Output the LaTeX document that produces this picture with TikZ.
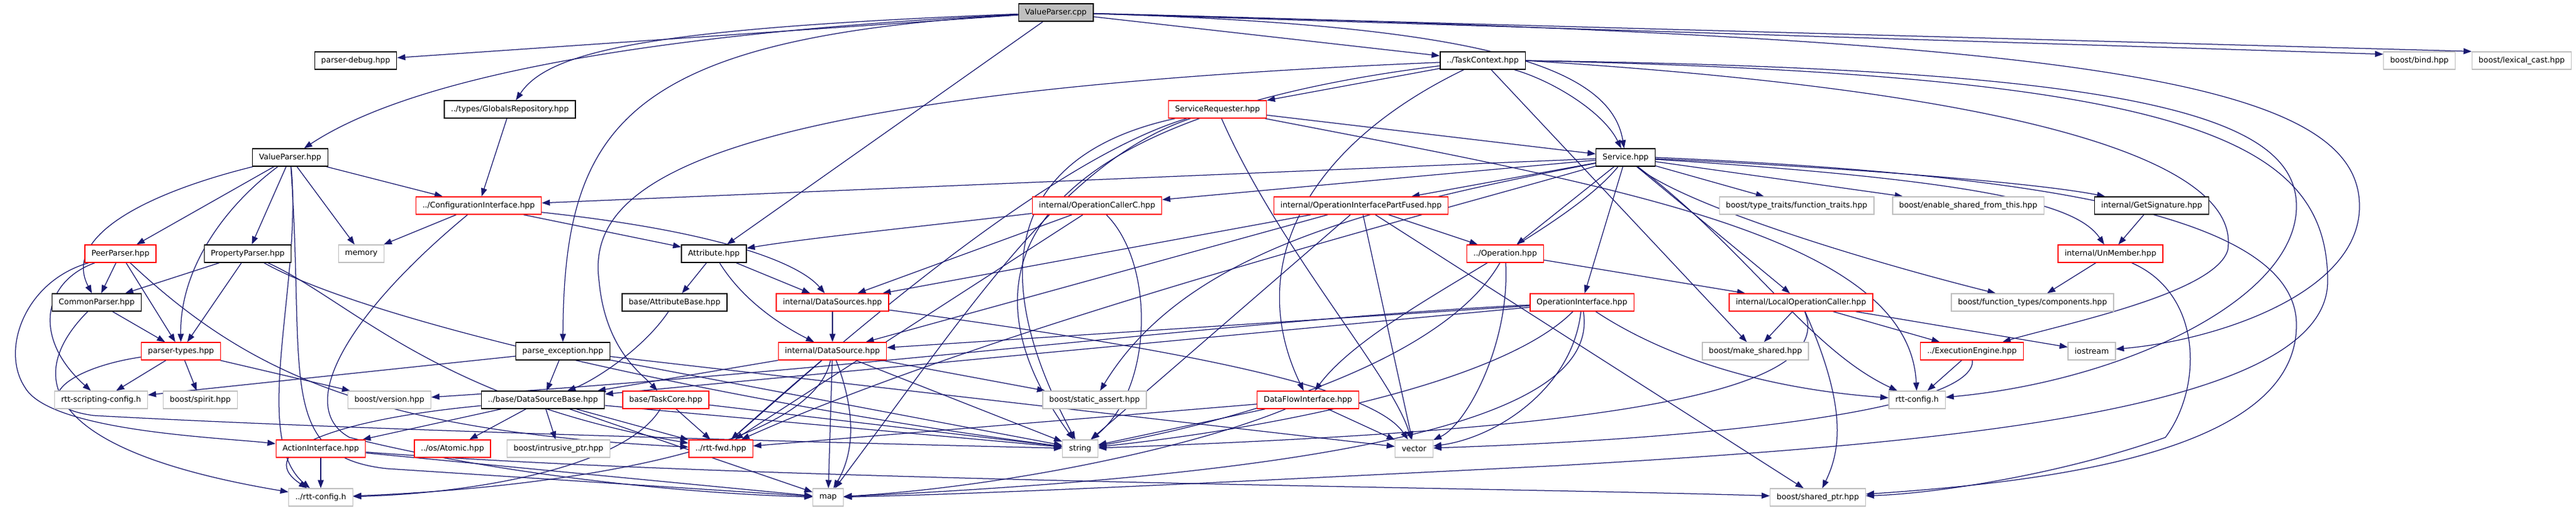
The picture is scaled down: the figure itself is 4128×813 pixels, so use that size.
\documentclass[tikz,border=0pt]{standalone}
\usepackage{fontspec}
\setmainfont{DejaVu Sans}
\usetikzlibrary{arrows.meta,backgrounds}
\definecolor{edgeblue}{HTML}{191970}
\definecolor{extgray}{HTML}{BFBFBF}

\begin{document}
\begin{tikzpicture}[
  x = 1bp,
  y = -1bp,
  file/.style = {
    shape = rectangle,
    minimum height = 28bp,
    inner xsep = 10.5bp,
    inner ysep = 0pt,
    line width = 1.4bp,
    fill = white,
    font = \fontsize{12.5}{15}\selectfont
  },
  doc/.style = {file, draw = black},
  partial/.style = {file, draw = red},
  sys/.style = {file, draw = extgray},
  root/.style = {file, draw = black, fill = extgray},
  dep/.style = {
    draw = edgeblue,
    line width = 1.25bp,
    -{Triangle[length = 13bp, width = 9.5bp]}
  }
]
  \useasboundingbox (0, 0) rectangle (4128, 813);

  \node[root] (vpcpp) at (1692, 20) {ValueParser.cpp};

  \node[doc] (parserdebug) at (570, 97) {parser-debug.hpp};
  \node[doc] (taskcontext) at (2376, 97) {../TaskContext.hpp};
  \node[sys] (bind) at (3877, 97) {boost/bind.hpp};
  \node[sys] (lexicalcast) at (4041, 97) {boost/lexical\_cast.hpp};

  \node[doc] (globals) at (817, 175) {../types/GlobalsRepository.hpp};
  \node[partial] (servicereq) at (1951, 175) {ServiceRequester.hpp};

  \node[doc] (vphpp) at (465, 252) {ValueParser.hpp};
  \node[doc] (service) at (2605, 252) {Service.hpp};

  \node[partial] (config) at (767, 329) {../ConfigurationInterface.hpp};
  \node[partial] (occ) at (1758, 329) {internal/OperationCallerC.hpp};
  \node[partial] (oipf) at (2181, 329) {internal/OperationInterfacePartFused.hpp};
  \node[sys] (typetraits) at (2879, 329) {boost/type\_traits/function\_traits.hpp};
  \node[sys] (enableshared) at (3154, 329) {boost/enable\_shared\_from\_this.hpp};
  \node[doc] (getsig) at (3448, 329) {internal/GetSignature.hpp};

  \node[partial] (peerparser) at (193, 406) {PeerParser.hpp};
  \node[doc] (propparser) at (397, 406) {PropertyParser.hpp};
  \node[sys] (memory) at (579, 406) {memory};
  \node[doc] (attribute) at (1144, 406) {Attribute.hpp};
  \node[partial] (operation) at (2412, 406) {../Operation.hpp};
  \node[partial] (unmember) at (3382, 406) {internal/UnMember.hpp};

  \node[doc] (commonparser) at (155, 484) {CommonParser.hpp};
  \node[doc] (attrbase) at (1081, 484) {base/AttributeBase.hpp};
  \node[partial] (datasources) at (1334, 484) {internal/DataSources.hpp};
  \node[partial] (opinterface) at (2535, 484) {OperationInterface.hpp};
  \node[partial] (localopcaller) at (2886, 484) {internal/LocalOperationCaller.hpp};
  \node[sys] (components) at (3257, 484) {boost/function\_types/components.hpp};

  \node[partial] (parsertypes) at (290, 562) {parser-types.hpp};
  \node[doc] (parseexc) at (902, 562) {parse\_exception.hpp};
  \node[partial] (datasource) at (1334, 562) {internal/DataSource.hpp};
  \node[sys] (makeshared) at (2813, 562) {boost/make\_shared.hpp};
  \node[partial] (execengine) at (3160, 562) {../ExecutionEngine.hpp};
  \node[sys] (iostream) at (3352, 562) {iostream};

  \node[sys] (rttscripting) at (162, 640) {rtt-scripting-config.h};
  \node[sys] (spirit) at (321, 640) {boost/spirit.hpp};
  \node[sys] (version) at (624, 640) {boost/version.hpp};
  \node[doc] (dsbase) at (870, 640) {../base/DataSourceBase.hpp};
  \node[partial] (taskcore) at (1067, 640) {base/TaskCore.hpp};
  \node[sys] (staticassert) at (1754, 640) {boost/static\_assert.hpp};
  \node[partial] (dataflow) at (2096, 640) {DataFlowInterface.hpp};
  \node[sys] (rttconfig) at (3072, 640) {rtt-config.h};

  \node[partial] (actioninterface) at (514, 718) {ActionInterface.hpp};
  \node[partial] (atomic) at (725, 718) {../os/Atomic.hpp};
  \node[sys] (intrusive) at (895, 718) {boost/intrusive\_ptr.hpp};
  \node[partial] (rttfwd) at (1155, 718) {../rtt-fwd.hpp};
  \node[sys] (string) at (1731, 718) {string};
  \node[sys] (vector) at (2266, 718) {vector};

  \node[sys] (rttconfigup) at (514, 796) {../rtt-config.h};
  \node[sys] (map) at (1327, 796) {map};
  \node[sys] (sharedptr) at (2913, 796) {boost/shared\_ptr.hpp};

  \begin{scope}[on background layer]
    \draw[dep] (vpcpp) -- (parserdebug);
    \draw[dep] (vpcpp) .. controls (1000, 55) and (650, 130) .. (vphpp);
    \draw[dep] (vpcpp) .. controls (1050, 45) and (880, 80) .. (globals);
    \draw[dep] (vpcpp) .. controls (1000, 60) and (904, 200) .. (parseexc.north);
    \draw[dep] (vpcpp) -- (attribute);
    \draw[dep] (vpcpp) -- (taskcontext);
    \draw[dep] (vpcpp) .. controls (2350, 40) and (2580, 100) .. (service);
    \draw[dep] (vpcpp) -- (bind.170);
    \draw[dep] (vpcpp) -- (lexicalcast.north west);
    \draw[dep] (vpcpp) .. controls (3300, 60) and (3781, 120) .. (3781, 330)
      .. controls (3781, 470) and (3550, 545) .. (iostream);

    \draw[dep] (vphpp) -- (peerparser);
    \draw[dep] (vphpp) .. controls (230, 310) and (100, 380) .. (commonparser);
    \draw[dep] (vphpp) .. controls (360, 330) and (288, 430) .. (parsertypes);
    \draw[dep] (vphpp) -- (propparser);
    \draw[dep] (vphpp) -- (memory);
    \draw[dep] (vphpp) -- (config);
    \draw[dep] (vphpp) .. controls (485, 450) and (400, 700) .. (rttconfigup);
    \draw[dep] (vphpp) .. controls (490, 600) and (440, 730) .. (620, 750) -- (map);
    \draw[dep] (globals) -- (config);

    \draw[dep] (config) -- (memory);
    \draw[dep] (config) -- (attribute);
    \draw[dep] (config) .. controls (1150, 370) and (1280, 420) .. (datasources);
    \draw[dep] (config) .. controls (560, 500) and (470, 650) .. (560, 700)
      .. controls (800, 760) and (1100, 790) .. (map);

    \draw[dep] (peerparser) -- (commonparser);
    \draw[dep] (peerparser) -- (parsertypes);
    \draw[dep] (peerparser) .. controls (70, 450) and (50, 540) .. (rttscripting);
    \draw[dep] (peerparser) .. controls (40, 450) and (0, 560) .. (40, 620)
      .. controls (80, 690) and (350, 700) .. (actioninterface);
    \draw[dep] (peerparser) .. controls (400, 600) and (600, 690) .. (rttfwd);
    \draw[dep] (propparser) -- (commonparser);
    \draw[dep] (propparser) -- (parsertypes);
    \draw[dep] (propparser) .. controls (600, 520) and (1200, 650) .. (string);
    \draw[dep] (propparser) .. controls (560, 480) and (700, 640) .. (rttfwd);
    \draw[dep] (commonparser) -- (parsertypes);
    \draw[dep] (commonparser) .. controls (40, 600) and (60, 720) .. (rttconfigup);
    \draw[dep] (parsertypes) -- (rttscripting);
    \draw[dep] (parsertypes) -- (spirit);
    \draw[dep] (parsertypes) -- (version);
    \draw[dep] (parsertypes) .. controls (100, 590) and (40, 650) .. (150, 665)
      .. controls (600, 690) and (1400, 710) .. (string);

    \draw[dep] (attribute) -- (attrbase);
    \draw[dep] (attribute) -- (datasources);
    \draw[dep] (attribute) .. controls (1190, 480) and (1250, 520) .. (datasource);
    \draw[dep] (attrbase) .. controls (1030, 560) and (950, 610) .. (dsbase);
    \draw[dep] (datasources) -- (datasource);
    \draw[dep] (datasources) .. controls (1900, 560) and (2200, 620) .. (vector);
    \draw[dep] (datasource) -- (dsbase);
    \draw[dep] (datasource) -- (map);
    \draw[dep] (datasource) .. controls (1380, 680) and (1360, 740) .. (map);
    \draw[dep] (datasource) .. controls (1300, 720) and (900, 780) .. (rttconfigup);
    \draw[dep] (datasource) -- (staticassert);
    \draw[dep] (datasource) -- (string);
    \draw[dep] (datasource) -- (rttfwd);
    \draw[dep] (parseexc) -- (rttscripting);
    \draw[dep] (parseexc) -- (dsbase);
    \draw[dep] (parseexc) -- (string);
    \draw[dep] (parseexc) -- (vector);

    \draw[dep] (dsbase) -- (atomic);
    \draw[dep] (dsbase) -- (intrusive);
    \draw[dep] (dsbase) -- (rttfwd);
    \draw[dep] (dsbase) -- (map);
    \draw[dep] (dsbase) -- (string);
    \draw[dep] (dsbase) -- (actioninterface);
    \draw[dep] (dsbase) .. controls (550, 670) and (400, 720) .. (rttconfigup);
    \draw[dep] (taskcore) -- (rttfwd);
    \draw[dep] (taskcore) .. controls (1000, 750) and (750, 790) .. (rttconfigup);
    \draw[dep] (taskcore) -- (string);
    \draw[dep] (actioninterface) -- (rttconfigup);
    \draw[dep] (actioninterface) -- (map);
    \draw[dep] (actioninterface) .. controls (1200, 770) and (2400, 780) .. (sharedptr);

    \draw[dep] (taskcontext) -- (servicereq);
    \draw[dep] (taskcontext) .. controls (2490, 130) and (2570, 180) .. (service);
    \draw[dep] (taskcontext) .. controls (1100, 150) and (940, 300) .. (960, 450)
      .. controls (970, 560) and (1030, 600) .. (taskcore);
    \draw[dep] (taskcontext) .. controls (2100, 230) and (1990, 420) .. (dataflow);
    \draw[dep] (taskcontext) -- (makeshared);
    \draw[dep] (taskcontext) .. controls (1700, 180) and (1500, 400) .. (string);
    \draw[dep] (taskcontext.east) .. controls (3300, 150) and (3590, 270) .. (3570, 400)
      .. controls (3550, 470) and (3300, 520) .. (execengine);
    \draw[dep] (taskcontext.east) .. controls (3400, 110) and (3680, 180) .. (3680, 330)
      .. controls (3680, 480) and (3400, 610) .. (rttconfig);
    \draw[dep] (taskcontext.east) .. controls (3500, 120) and (3730, 220) .. (3730, 450)
      .. controls (3730, 660) and (3100, 710) .. (2500, 745)
      .. controls (2000, 770) and (1600, 790) .. (map);

    \draw[dep] (servicereq) -- (service);
    \draw[dep] (servicereq) .. controls (2600, 300) and (3060, 380) .. (rttconfig);
    \draw[dep] (servicereq) .. controls (1650, 240) and (1560, 400) .. (string);
    \draw[dep] (servicereq) .. controls (1700, 250) and (1400, 500) .. (rttfwd);
    \draw[dep] (servicereq) .. controls (1700, 260) and (1550, 500) .. (map);
    \draw[dep] (servicereq) .. controls (2050, 400) and (2230, 600) .. (vector);

    \draw[dep] (service) -- (config);
    \draw[dep] (service) -- (occ);
    \draw[dep] (service) -- (oipf);
    \draw[dep] (service) -- (operation);
    \draw[dep] (service) -- (opinterface);
    \draw[dep] (service) -- (typetraits);
    \draw[dep] (service) -- (enableshared);
    \draw[dep] (service) .. controls (2900, 265) and (3250, 290) .. (getsig);
    \draw[dep] (service) .. controls (3200, 290) and (3330, 330) .. (unmember);
    \draw[dep] (service) -- (localopcaller);
    \draw[dep] (service) .. controls (2700, 330) and (3000, 420) .. (components);
    \draw[dep] (service.east) .. controls (3300, 280) and (3680, 350) .. (3680, 520)
      .. controls (3680, 720) and (3300, 770) .. (sharedptr);
    \draw[dep] (service) .. controls (2500, 380) and (2200, 500) .. (dataflow);
    \draw[dep] (service) .. controls (2200, 330) and (1900, 400) .. (staticassert);
    \draw[dep] (service) .. controls (2300, 340) and (1600, 520) .. (rttfwd);
    \draw[dep] (service) .. controls (2800, 400) and (2900, 560) .. (rttconfig);

    \draw[dep] (occ) .. controls (1500, 360) and (1300, 380) .. (attribute);
    \draw[dep] (occ) -- (datasources);
    \draw[dep] (occ) -- (rttfwd);
    \draw[dep] (occ) .. controls (1850, 420) and (1850, 620) .. (string);
    \draw[dep] (oipf) -- (datasource);
    \draw[dep] (oipf) -- (datasources);
    \draw[dep] (oipf) -- (string);
    \draw[dep] (oipf) -- (vector);
    \draw[dep] (oipf) -- (operation);
    \draw[dep] (oipf) -- (sharedptr);
    \draw[dep] (operation) -- (localopcaller);
    \draw[dep] (operation) .. controls (2300, 600) and (1900, 690) .. (string);
    \draw[dep] (operation) .. controls (2420, 550) and (2350, 680) .. (vector);

    \draw[dep] (opinterface) -- (datasource);
    \draw[dep] (opinterface) -- (dsbase);
    \draw[dep] (opinterface) .. controls (2400, 620) and (2000, 690) .. (string);
    \draw[dep] (opinterface) .. controls (2520, 620) and (2400, 700) .. (vector);
    \draw[dep] (opinterface) .. controls (2560, 640) and (2300, 750) .. (map);
    \draw[dep] (opinterface) .. controls (2650, 560) and (2800, 620) .. (rttconfig);
    \draw[dep] (opinterface) .. controls (2000, 510) and (1400, 590) .. (version);
    \draw[dep] (localopcaller) -- (makeshared);
    \draw[dep] (localopcaller) .. controls (2950, 640) and (2500, 690) .. (string);
    \draw[dep] (localopcaller) .. controls (2960, 650) and (2950, 720) .. (sharedptr);
    \draw[dep] (localopcaller) -- (execengine);
    \draw[dep] (localopcaller) -- (iostream);
    \draw[dep] (execengine) -- (rttconfig);
    \draw[dep] (execengine) .. controls (3165, 650) and (2800, 700) .. (vector);

    \draw[dep] (getsig) -- (unmember);
    \draw[dep] (unmember) -- (components);
    \draw[dep] (unmember) .. controls (3530, 470) and (3530, 620) .. (3470, 700)
      .. controls (3300, 760) and (3100, 790) .. (sharedptr);
    \draw[dep] (dataflow) -- (vector);
    \draw[dep] (dataflow) -- (string);
    \draw[dep] (dataflow) .. controls (1900, 720) and (1600, 780) .. (map);
    \draw[dep] (dataflow) -- (rttfwd);
  \end{scope}
\end{tikzpicture}
\end{document}
